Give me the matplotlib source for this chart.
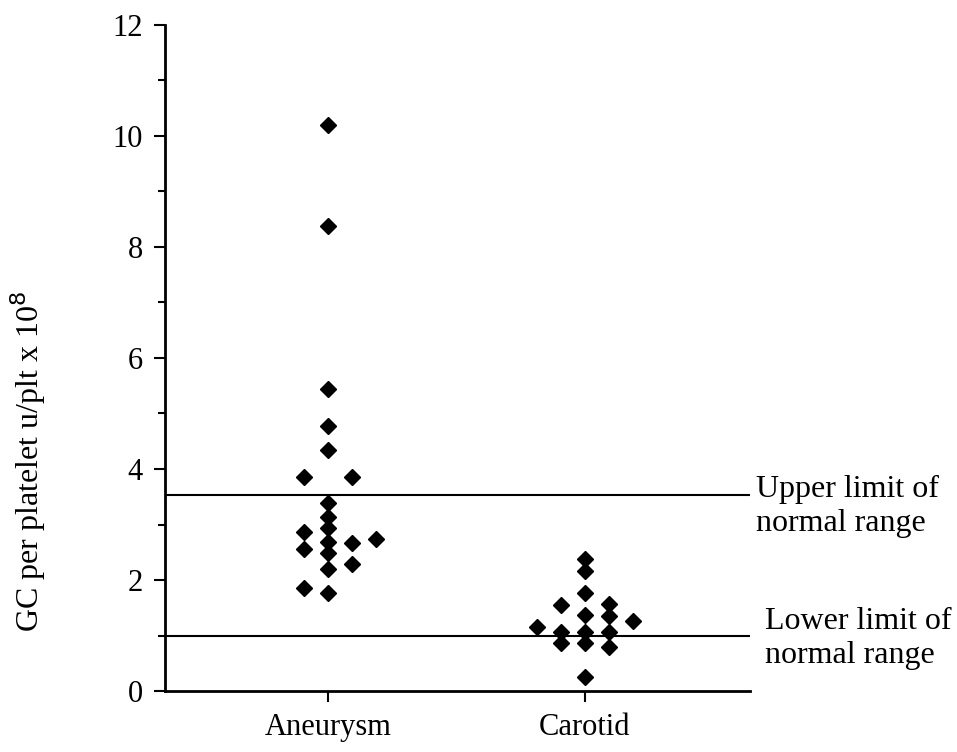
import matplotlib
matplotlib.use("Agg")
import matplotlib.pyplot as plt
import numpy as np

plt.rcParams['font.family'] = ['Liberation Serif', 'DejaVu Serif']

groups = ["Aneurysm", "Carotid"]

# GC per platelet values, with horizontal jitter column (-2..2) for the dot plot
aneurysm_vals = [10.2, 8.38, 5.45, 4.78, 4.34, 3.86, 3.86,
                 3.39, 3.14, 2.93, 2.68, 2.48, 2.19, 1.76,
                 2.86, 2.56, 1.85, 2.67, 2.29, 2.74]
aneurysm_cols = [0, 0, 0, 0, 0, -1, 1,
                 0, 0, 0, 0, 0, 0, 0,
                 -1, -1, -1, 1, 1, 2]

carotid_vals = [2.37, 2.17, 1.76, 1.37, 1.07, 0.87, 0.26,
                1.55, 1.07, 0.87, 1.16,
                1.57, 1.35, 1.07, 0.79, 1.27]
carotid_cols = [0, 0, 0, 0, 0, 0, 0,
                -1, -1, -1, -2,
                1, 1, 1, 1, 2]

upper_limit = 3.53
lower_limit = 1.0

fig = plt.figure(figsize=(9.57, 7.52), dpi=100)
ax = fig.add_axes([0.1724, 0.0811, 0.6113, 0.8857])

step = 0.094
for i, (vals, cols) in enumerate([(aneurysm_vals, aneurysm_cols),
                                  (carotid_vals, carotid_cols)]):
    xs = (i + 1) + np.array(cols) * step
    ax.plot(xs, vals, linestyle='none', marker='D', markersize=8,
            color='black')

ax.axhline(upper_limit, color='black', lw=1.5)
ax.axhline(lower_limit, color='black', lw=1.5)

ax.set_xlim(0.366, 2.642)
ax.set_ylim(0, 12)
ax.set_xticks([1, 2])
ax.set_xticklabels(groups, fontsize=22)
ax.set_yticks(np.arange(0, 13, 2))
ax.set_yticks(np.arange(1, 12, 2), minor=True)
ax.tick_params(axis='y', which='major', length=8, width=1.5, labelsize=22, pad=8)
ax.tick_params(axis='y', which='minor', length=5, width=1.5)
ax.tick_params(axis='x', length=8, width=1.5, pad=8)

for s in ['top', 'right']:
    ax.spines[s].set_visible(False)
for s in ['left', 'bottom']:
    ax.spines[s].set_linewidth(2)

ax.set_ylabel("GC per platelet u/plt x 10$^{8}$", fontsize=23)
ax.yaxis.set_label_coords(-0.2, 0.345)

ax.text(1.01, (upper_limit + 0.36) / 12, "Upper limit of\nnormal range",
        transform=ax.transAxes, fontsize=23, va='top', ha='left',
        linespacing=1.2)
ax.text(1.025, (lower_limit + 0.52) / 12, "Lower limit of\nnormal range",
        transform=ax.transAxes, fontsize=23, va='top', ha='left',
        linespacing=1.25)

fig.savefig("out.png", dpi=100)
